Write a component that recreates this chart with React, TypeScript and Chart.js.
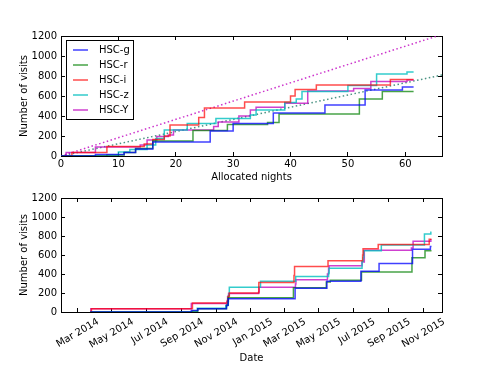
import React, { useEffect, useRef } from 'react';
import { Chart, registerables } from 'chart.js';

Chart.register(...registerables);

// ---------- data ----------
const FILTERS = ['HSC-g', 'HSC-r', 'HSC-i', 'HSC-z', 'HSC-Y'];
const COLORS = [
  'rgba(0,0,255,0.75)',
  'rgba(0,128,0,0.72)',
  'rgba(255,0,0,0.7)',
  'rgba(0,191,191,0.8)',
  'rgba(191,0,191,0.75)',
];

// cumulative allocated nights at which each filter's visit count steps up
const gNights = [0, 6, 11, 13, 16, 26, 30, 37, 46, 53, 59.5];
const gVisits = [0, 15, 35, 70, 140, 250, 325, 430, 510, 660, 690];

const rNights = [0, 8, 11, 13, 16, 23, 29, 36, 38, 52, 56];
const rVisits = [0, 10, 35, 75, 150, 255, 315, 335, 420, 570, 645];

const iNights = [0, 1.9, 8, 14.5, 16, 18, 19, 24, 25, 32, 40, 40.8, 44.5, 57.4];
const iVisits = [0, 35, 95, 120, 165, 200, 310, 385, 480, 540, 600, 665, 710, 765];

const zNights = [0, 10, 12, 15, 16.5, 18, 22, 27, 33, 34, 39, 41, 42, 50, 55, 60.3];
const zVisits = [0, 40, 65, 110, 175, 260, 325, 375, 410, 460, 535, 570, 645, 705, 820, 840];

const yNights = [0, 0.9, 6, 13.8, 15, 16.7, 18.7, 19.6, 26.6, 27.4, 31, 33, 34, 39, 43, 51, 54, 60.3];
const yVisits = [0, 35, 90, 110, 160, 195, 210, 260, 295, 340, 400, 460, 487, 527, 650, 675, 745, 760];

const LAST_NIGHT = 61.45;

// reference rate lines (night, visits)
const rateNights = [0, 66.4];
const rateHigh = [0, 1215];
const rateLow = [0, 810];

// observing runs: cumulative nights before the run and the run's first date
const runStartNight = [0, 5, 8.5, 11, 18, 22, 28, 36, 43, 50, 54, 57];
const runStartDate = [
  '2014-03-25', '2014-09-18', '2014-09-28', '2014-11-18', '2015-01-15', '2015-03-17',
  '2015-05-14', '2015-07-14', '2015-08-13', '2015-10-11', '2015-11-03', '2015-11-12',
];

// axis ticks
const nightTicks = [0, 10, 20, 30, 40, 50, 60];
const visitTicks = [0, 200, 400, 600, 800, 1000, 1200];
const dateTickValues = [
  '2014-03-01', '2014-05-01', '2014-07-01', '2014-09-01', '2014-11-01', '2015-01-01',
  '2015-03-01', '2015-05-01', '2015-07-01', '2015-09-01', '2015-11-01',
];
const dateTickLabels = [
  'Mar 2014', 'May 2014', 'Jul 2014', 'Sep 2014', 'Nov 2014', 'Jan 2015',
  'Mar 2015', 'May 2015', 'Jul 2015', 'Sep 2015', 'Nov 2015',
];

// ---------- helpers ----------
const DAY = 86400000;
const NIGHT_MAX = 66.4;
const DATE_MIN = Date.UTC(2014, 0, 31, 6);
const DATE_MAX = Date.UTC(2015, 11, 3, 23);
const LABEL_SHIFT_DAYS = 37;

const SERIES = [
  [gNights, gVisits],
  [rNights, rVisits],
  [iNights, iVisits],
  [zNights, zVisits],
  [yNights, yVisits],
];

function dateOfNight(n: number): number {
  let k = 0;
  for (let j = 0; j < runStartNight.length; j++) if (runStartNight[j] < n) k = j;
  return Date.parse(runStartDate[k]) + (n - runStartNight[k] - 1) * DAY;
}

const FONT = { family: "'DejaVu Sans', sans-serif", size: 10 };

function tickSetter(values: number[]) {
  return (s: any) => {
    s.ticks = values.map((v) => ({ value: v }));
  };
}

function frameAxis(position: string, min: number, max: number, ticks: number[], size: number, extra: any = {}) {
  const horiz = position === 'top' || position === 'bottom';
  return {
    type: 'linear',
    position,
    min,
    max,
    afterBuildTicks: tickSetter(ticks),
    ticks: { display: false },
    grid: { drawOnChartArea: false, drawTicks: true, tickLength: -4, color: '#000', tickColor: '#000', tickWidth: 1 },
    border: { display: true, color: '#000', width: 1 },
    afterFit: (s: any) => {
      if (horiz) s.height = size;
      else s.width = size;
    },
    ...extra,
  };
}

const legendPlugin = {
  id: 'boxLegend',
  afterDatasetsDraw(chart: any) {
    const ctx = chart.ctx;
    const a = chart.chartArea;
    const x0 = Math.round(a.left) + 5;
    const y0 = Math.round(a.top) + 4;
    const items = chart.data.datasets.filter((d: any) => d.inLegend);
    const w = 67;
    const h = 79;
    ctx.save();
    ctx.fillStyle = '#fff';
    ctx.fillRect(x0, y0, w, h);
    ctx.strokeStyle = '#000';
    ctx.lineWidth = 1;
    ctx.strokeRect(x0 + 0.5, y0 + 0.5, w, h);
    ctx.font = "10px 'DejaVu Sans', sans-serif";
    ctx.textBaseline = 'middle';
    ctx.textAlign = 'left';
    items.forEach((d: any, i: number) => {
      const y = y0 + 10 + i * 15;
      ctx.strokeStyle = d.borderColor;
      ctx.lineWidth = 1.5;
      ctx.beginPath();
      ctx.moveTo(x0 + 7, y);
      ctx.lineTo(x0 + 22, y);
      ctx.stroke();
      ctx.fillStyle = '#000';
      ctx.fillText(d.label, x0 + 33, y);
    });
    ctx.restore();
  },
};

function stepDatasets(toX: (n: number) => number) {
  return SERIES.map(([nights, visits], i) => {
    const pts = nights.map((n, j) => ({ x: toX(n), y: visits[j] }));
    pts.push({ x: toX(LAST_NIGHT), y: visits[visits.length - 1] });
    return {
      label: FILTERS[i],
      data: pts,
      borderColor: COLORS[i],
      backgroundColor: COLORS[i],
      borderWidth: 1.5,
      pointRadius: 0,
      stepped: 'before',
      fill: false,
      inLegend: true,
    };
  });
}

export default function App() {
  const topRef = useRef<HTMLCanvasElement>(null);
  const botRef = useRef<HTMLCanvasElement>(null);

  useEffect(() => {
    const yAxis = (titlePad: number) => ({
      type: 'linear',
      position: 'left',
      min: 0,
      max: 1200,
      afterBuildTicks: tickSetter(visitTicks),
      ticks: { font: FONT, color: '#000', padding: 8, callback: (v: any) => String(v) },
      grid: { drawOnChartArea: false, drawTicks: true, tickLength: -4, color: '#000', tickColor: '#000' },
      border: { display: true, color: '#000', width: 1 },
      title: { display: true, text: 'Number of visits', font: FONT, color: '#000', padding: { top: titlePad, bottom: 0 } },
      afterFit: (s: any) => {
        s.width = 61;
      },
    });

    const top = new Chart(topRef.current as HTMLCanvasElement, {
      type: 'line',
      data: {
        datasets: [
          ...stepDatasets((n) => n),
          {
            label: 'rate high',
            data: rateNights.map((n, j) => ({ x: n, y: rateHigh[j] })),
            borderColor: 'rgba(191,0,191,0.8)',
            borderWidth: 1.5,
            borderDash: [1.5, 2.5],
            pointRadius: 0,
            fill: false,
          },
          {
            label: 'rate low',
            data: rateNights.map((n, j) => ({ x: n, y: rateLow[j] })),
            borderColor: 'rgba(30,120,100,0.8)',
            borderWidth: 1.5,
            borderDash: [1.5, 2.5],
            pointRadius: 0,
            fill: false,
          },
        ] as any,
      },
      options: {
        animation: false,
        responsive: false,
        layout: { padding: 0 },
        plugins: { legend: { display: false }, tooltip: { enabled: false }, title: { display: false } },
        scales: {
          x: {
            type: 'linear',
            position: 'bottom',
            min: 0,
            max: NIGHT_MAX,
            afterBuildTicks: tickSetter(nightTicks),
            ticks: { font: FONT, color: '#000', padding: 6, maxRotation: 0, autoSkip: false, callback: (v: any) => String(v) },
            grid: { drawOnChartArea: false, drawTicks: true, tickLength: -4, color: '#000', tickColor: '#000' },
            border: { display: true, color: '#000', width: 1 },
            title: { display: true, text: 'Allocated nights', font: FONT, color: '#000', padding: { top: 0, bottom: 1 } },
            afterFit: (s: any) => {
              s.height = 28;
            },
          },
          xTop: frameAxis('top', 0, NIGHT_MAX, nightTicks, 36),
          y: yAxis(18),
          yRight: frameAxis('right', 0, 1200, visitTicks, 49),
        } as any,
      },
      plugins: [legendPlugin],
    } as any);

    const monthVals = dateTickValues.map((d) => Date.parse(d));
    const bot = new Chart(botRef.current as HTMLCanvasElement, {
      type: 'line',
      data: { datasets: stepDatasets(dateOfNight) as any },
      options: {
        animation: false,
        responsive: false,
        layout: { padding: 0 },
        plugins: { legend: { display: false }, tooltip: { enabled: false }, title: { display: false } },
        scales: {
          x: frameAxis('bottom', DATE_MIN, DATE_MAX, monthVals, 0),
          xLab: {
            type: 'linear',
            position: 'bottom',
            min: DATE_MIN,
            max: DATE_MAX,
            afterBuildTicks: tickSetter(monthVals.map((v) => v + LABEL_SHIFT_DAYS * DAY)),
            ticks: {
              font: FONT,
              color: '#000',
              padding: 4,
              minRotation: 30,
              maxRotation: 30,
              autoSkip: false,
              callback: (_v: any, i: number) => dateTickLabels[i],
            },
            grid: { display: false, drawTicks: false, drawOnChartArea: false },
            border: { display: false },
            title: { display: true, text: 'Date', font: FONT, color: '#000', padding: { top: 0, bottom: 4 } },
            afterFit: (s: any) => {
              s.height = 56;
            },
          },
          xTop: frameAxis('top', DATE_MIN, DATE_MAX, monthVals, 9),
          y: yAxis(18),
          yRight: frameAxis('right', 0, 1200, visitTicks, 49),
        } as any,
      },
    } as any);

    return () => {
      top.destroy();
      bot.destroy();
    };
  }, []);

  return (
    <div style={{ position: 'absolute', left: 0, top: 0, width: 491, height: 368, background: '#fff' }}>
      <canvas ref={topRef} width={491} height={184} style={{ display: 'block' }} />
      <canvas ref={botRef} width={491} height={184} style={{ display: 'block' }} />
    </div>
  );
}
